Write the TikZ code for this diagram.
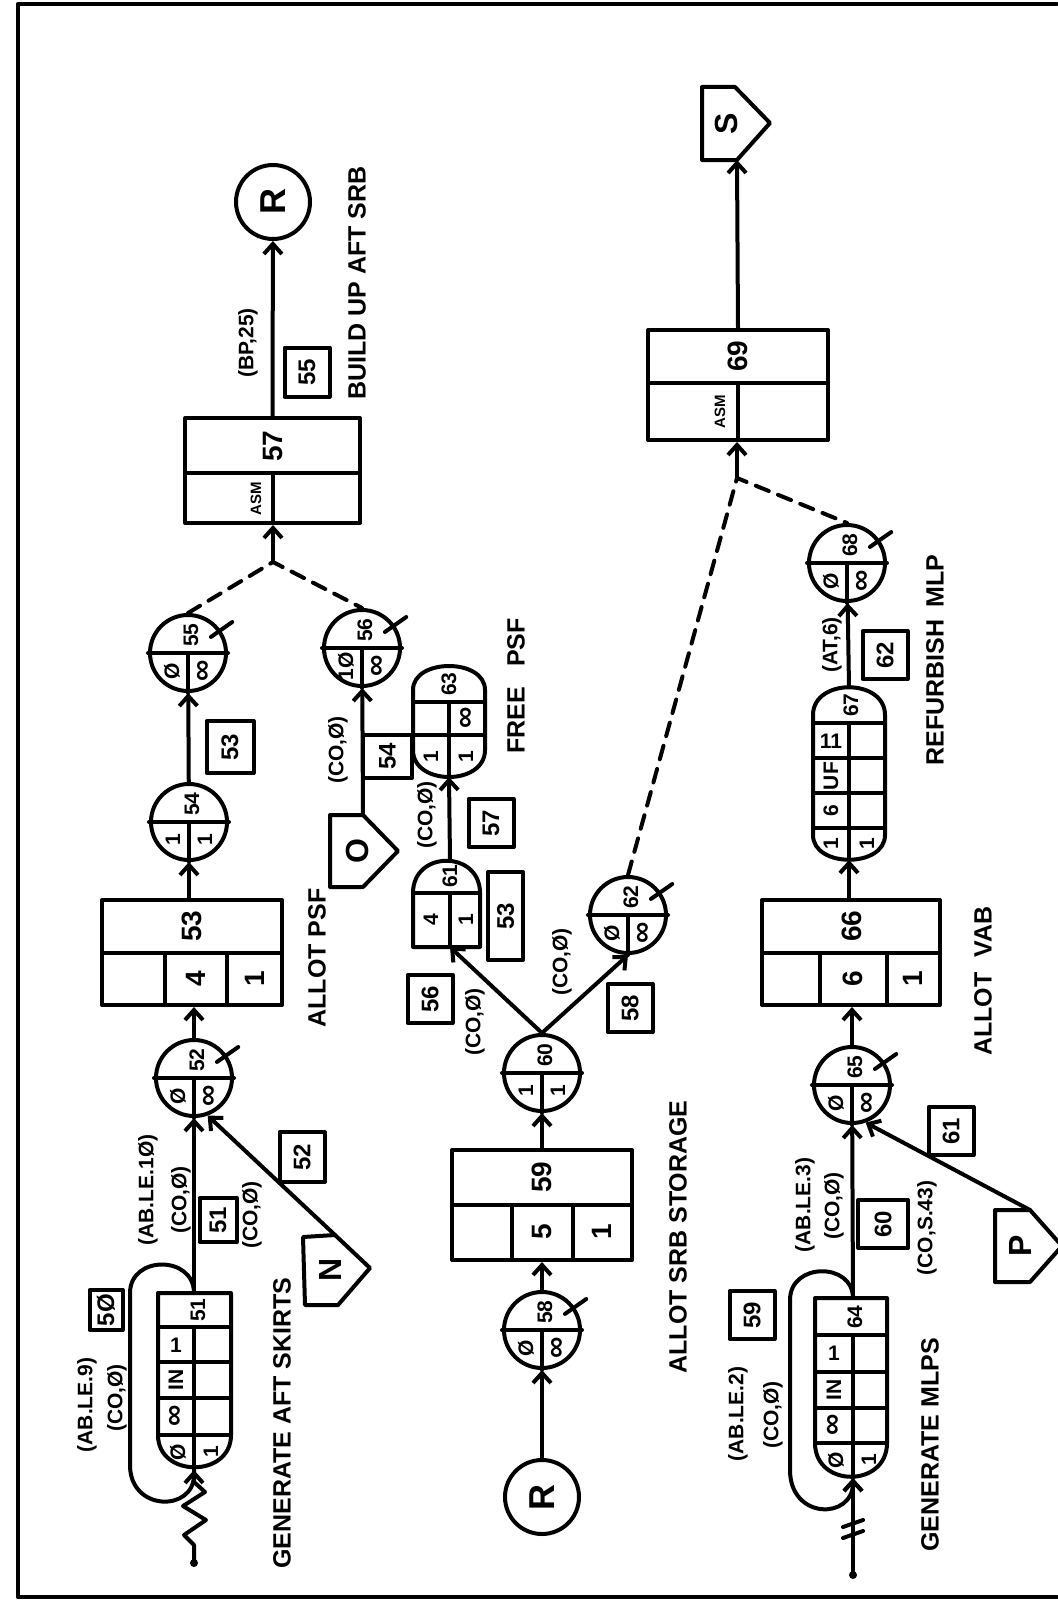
\documentclass[tikz,border=0pt]{standalone}
\usepackage{graphicx}
\usepackage{fontspec}
\setmainfont{Liberation Sans}
\usetikzlibrary{calc,arrows.meta}
\newcommand{\qcirc}[5]{%
  \node[qc] (#1) at (#2) {};
  \draw (#1.west) -- (#1.east) (#1.center) -- (#1.south);
  \node[cell] at ($(#1)+(3,-18)$) {#3};
  \node[cell] at ($(#1)+(-16,18)$) {#4};
  \node[cell] at ($(#1)+(16,18)$) {#5};}
\newcommand{\qtick}[1]{\draw ($(#1)!0.7!(#1.35)$) -- ($(#1)!1.35!(#1.35)$);}
\newcommand{\infsym}{{\fontsize{15}{15}\selectfont ∞}}
\begin{document}
\begin{tikzpicture}[x=0.5pt, y=-0.5pt, line width=2pt, line join=round, line cap=round,
  >={Straight Barb[length=5pt,width=9pt]},
  qc/.style={circle, draw, minimum size=38pt, inner sep=0pt},
  cell/.style={rotate=90, inner sep=0pt, font=\bfseries\fontsize{10.5}{11}\selectfont},
  up/.style={inner sep=0pt, font=\bfseries\fontsize{10.5}{11}\selectfont},
  num/.style={rotate=90, inner sep=0pt, font=\bfseries\fontsize{14}{14}\selectfont},
  small/.style={rotate=90, inner sep=0pt, font=\bfseries\fontsize{7.5}{8}\selectfont},
  lbl/.style={rotate=90, inner sep=0pt, font=\bfseries\fontsize{10.5}{11}\selectfont},
  title/.style={rotate=90, inner sep=0pt, font=\bfseries\fontsize{12.5}{13}\selectfont},
  letter/.style={rotate=90, inner sep=0pt, font=\bfseries\fontsize{16}{16}\selectfont},
  pbox/.style={draw, inner sep=0pt},
  actbox/.style={draw, rotate=90, minimum width=24pt, minimum height=22.5pt, inner sep=0pt, font=\bfseries\fontsize{12}{12}\selectfont},
  term/.style={circle, draw, minimum size=37pt, inner sep=0pt, font=\bfseries\fontsize{18}{18}\selectfont},
  flow/.style={->},
  link/.style={dash pattern=on 7pt off 5pt}]
\useasboundingbox (0,0) rectangle (1057,1600);
\draw[line width=2.2pt] (1057,4) -- (18,4) -- (18,1597) -- (1057,1597);

\coordinate (s51t) at (194,1293);
\coordinate (s51b) at (194,1470);
\draw (158,1293) -- (231,1293) -- (231,1435) .. controls (231,1478) and (158,1478) .. (158,1435) -- cycle;
\draw (158,1327) -- (231,1327) (158,1362) -- (231,1362) (158,1398) -- (231,1398) (158,1435) -- (231,1435) (194,1327) -- (s51b);
\node[cell] at (198,1310) {51};
\node[up] at (176,1345) {1};
\node[cell] at (176,1380) {IN};
\node[cell] at (176,1416) {\infsym};
\node[cell] at (178,1452) {Ø};
\node[cell] at (211,1452) {1};
\draw[flow] (s51t) .. controls (194,1255) and (130,1255) .. (130,1293) -- (130,1465) .. controls (130,1512) and (194,1512) .. (s51b);
\draw (194,1563) -- (194,1545) -- (184,1535) -- (206,1520) -- (183,1506) -- (205,1492) -- (194,1482) -- (s51b);
\fill (194,1563) circle (4);
\node[actbox, minimum width=20pt, minimum height=16.5pt] (a50) at (106,1310) {5Ø};
\node[lbl] at (87,1405) {(AB.LE.9)};
\node[lbl] at (117,1398) {(CO,Ø)};
\node[title] at (282,1423) {GENERATE AFT SKIRTS};

\qcirc{n52}{194,1078}{52}{Ø}{\infsym} \qtick{n52}
\draw[flow] (s51t) -- (n52);
\node[lbl] at (148,1190) {(AB.LE.1Ø)};
\node[lbl] at (181,1200) {(CO,Ø)};
\node[actbox, minimum width=22pt, minimum height=18.5pt] (a51) at (218,1220) {51};
\node[lbl] at (252,1215) {(CO,Ø)};
\draw (303,1237) -- (335,1235) -- (370,1268) -- (338,1305) -- (305,1305) -- cycle;
\coordinate (Nt) at (335,1235);
\node[letter] at (330,1270) {N};
\draw[flow] (Nt) -- (n52.-70);
\node[actbox, minimum width=25pt] (a52) at (302,1157) {52};

\node[pbox, minimum width=90pt, minimum height=52.5pt] (b53) at (192,952.5) {};
\draw (102,953) -- (282,953) (165,953) -- (165,1005) (227,953) -- (227,1005);
\node[num] at (192,926) {53};
\node[num] at (196,979) {4};
\node[num] at (255,979) {1};
\draw[flow] (n52) -- (n52 |- b53.south);
\node[title] at (317,958) {ALLOT PSF};

\qcirc{n54}{189,822}{54}{1}{1}
\draw[flow] (b53.north -| n54) -- (n54);
\qcirc{n55}{188,653}{55}{Ø}{\infsym} \qtick{n55}
\draw[flow] (n54) -- (n55);
\node[actbox, minimum width=26pt, minimum height=23.5pt] (a53) at (230,747) {53};

\qcirc{n56}{362,648}{56}{1Ø}{\infsym} \qtick{n56}
\draw (330,815) -- (363,815) -- (398,851) -- (363,887) -- (330,887) -- cycle;
\coordinate (Ot) at (363,815);
\node[letter] at (357,851) {O};
\draw[flow] (Ot) -- (n56);
\node[lbl] at (338,750) {(CO,Ø)};
\node[actbox, minimum width=21.5pt, minimum height=24.5pt] (a54) at (387.5,756.5) {54};

\node[pbox, minimum width=87.5pt, minimum height=52.5pt] (b57) at (272.5,470.5) {};
\draw (185,473) -- (360,473) (273,473) -- (273,523);
\node[num] at (273,446) {57};
\node[small] at (256,499) {ASM};
\coordinate (mA) at (273,562);
\draw[link] (n55.north) -- (mA) -- (n56.north);
\draw[flow] (mA) -- (mA |- b57.south);
\node[term] (rA) at (273,202) {\rotatebox{90}{R}};
\draw[flow] (b57.north) -- (rA);
\node[lbl] at (248,343) {(BP,25)};
\node[actbox, minimum width=24.5pt] (a55) at (307,372) {55};
\node[title] at (357,283) {BUILD UP AFT SRB};

\node[term] (rB) at (542,1497) {\rotatebox{90}{R}};
\qcirc{n58}{542,1330}{58}{Ø}{\infsym} \qtick{n58}
\draw[flow] (rB) -- (n58);
\node[pbox, minimum width=90pt, minimum height=55pt] (b59) at (542,1205) {};
\draw (452,1205) -- (632,1205) (512,1205) -- (512,1260) (573,1205) -- (573,1260);
\node[num] at (542,1177) {59};
\node[num] at (542,1232) {5};
\node[num] at (602,1232) {1};
\draw[flow] (n58) -- (n58 |- b59.south);
\node[title] at (678,1237) {ALLOT SRB STORAGE};
\qcirc{n60}{542,1073}{60}{1}{1}
\draw[flow] (b59.north) -- (n60);

\draw (413,947) -- (413,893) .. controls (413,850) and (480,850) .. (480,893) -- (480,947) -- cycle;
\draw (413,893) -- (480,893) (450,893) -- (450,947);
\coordinate (q61t) at (450,860);
\coordinate (q61b) at (450,947);
\node[cell] at (450,876) {61};
\node[cell] at (431,920) {4};
\node[cell] at (466,920) {1};
\node[actbox, minimum width=44pt, minimum height=17.5pt] (a53b) at (505.5,916) {53};
\qcirc{n62}{628,915}{62}{Ø}{\infsym} \qtick{n62}
\draw[flow] (n60.north) -- (q61b);
\draw[flow] (n60.north) -- (n62.south);
\node[lbl] at (475,1022) {(CO,Ø)};
\node[actbox] (a56) at (430,999) {56};
\node[lbl] at (562,962) {(CO,Ø)};
\node[actbox] (a58) at (630,1008) {58};

\draw (413,690) .. controls (413,658) and (485,658) .. (485,690) -- (485,750) .. controls (485,786) and (413,786) .. (413,750) -- cycle;
\draw (413,702) -- (485,702) (413,735) -- (485,735) (449,702) -- (449,777);
\coordinate (f63b) at (449,777);
\node[cell] at (449,684) {63};
\node[cell] at (467,718) {\infsym};
\node[cell] at (431,757) {1};
\node[cell] at (466,757) {1};
\draw[flow] (q61t) -- (f63b);
\node[lbl] at (427,815) {(CO,Ø)};
\node[actbox] (a57) at (491,823) {57};
\node[title] at (516,686) {FREE\hspace{0.8em}PSF};

\node[pbox, minimum width=90pt, minimum height=55pt] (b69) at (738,385) {};
\draw (648,383) -- (828,383) (738,383) -- (738,440);
\node[num] at (738,356) {69};
\node[small] at (720,412) {ASM};
\draw (702,87) -- (735,87) -- (770,123) -- (737,160) -- (702,160) -- cycle;
\coordinate (Sb) at (737,160);
\node[letter] at (726,124) {S};
\draw[flow] (b69.north) -- (Sb);

\coordinate (s64t) at (853,1298);
\coordinate (s64b) at (853,1478);
\draw (815,1298) -- (887,1298) -- (887,1443) .. controls (887,1488) and (815,1488) .. (815,1443) -- cycle;
\draw (815,1335) -- (887,1335) (815,1372) -- (887,1372) (815,1408) -- (887,1408) (815,1443) -- (887,1443) (853,1335) -- (s64b);
\node[cell] at (855,1317) {64};
\node[up] at (834,1353) {1};
\node[cell] at (834,1390) {IN};
\node[cell] at (834,1425) {\infsym};
\node[cell] at (836,1460) {Ø};
\node[cell] at (869,1460) {1};
\draw[flow] (s64t) .. controls (853,1262) and (790,1262) .. (790,1300) -- (790,1470) .. controls (790,1520) and (853,1520) .. (s64b);
\draw[flow] (853,1575) -- (s64b);
\fill (853,1575) circle (4);
\draw (843,1527) -- (863,1520) (843,1538) -- (863,1531);
\node[lbl] at (738,1414) {(AB.LE.2)};
\node[lbl] at (773,1415) {(CO,Ø)};
\node[actbox] (a59) at (752,1315) {59};
\node[title] at (930,1445) {GENERATE MLPS};

\qcirc{n65}{852,1085}{65}{Ø}{\infsym} \qtick{n65}
\draw[flow] (s64t) -- (n65);
\node[lbl] at (805,1205) {(AB.LE.3)};
\node[lbl] at (834,1206) {(CO,Ø)};
\node[actbox, minimum width=24pt, minimum height=25pt] (a60) at (883,1224) {60};
\node[lbl] at (927,1228) {(CO,S.43)};
\draw (995,1210) -- (1030,1210) -- (1062,1246) -- (1030,1282) -- (995,1282) -- cycle;
\coordinate (Pt) at (1030,1210);
\node[letter] at (1020,1246) {P};
\draw[flow] (Pt) -- (n65.-70);
\node[actbox] (a61) at (951,1131) {61};

\node[pbox, minimum width=89pt, minimum height=52.5pt] (b66) at (851,952.5) {};
\draw (762,953) -- (940,953) (820,953) -- (820,1005) (887,953) -- (887,1005);
\node[num] at (852,926) {66};
\node[num] at (853,979) {6};
\node[num] at (913,979) {1};
\draw[flow] (n65) -- (n65 |- b66.south);
\node[title] at (983,981) {ALLOT\hspace{0.6em}VAB};

\draw (813,715) .. controls (813,678) and (885,678) .. (885,715) -- (885,835) .. controls (885,868) and (813,868) .. (813,835) -- cycle;
\draw (813,723) -- (885,723) (813,758) -- (885,758) (813,793) -- (885,793) (813,828) -- (885,828) (849,723) -- (849,860);
\coordinate (o67t) at (849,687);
\coordinate (o67b) at (849,860);
\node[cell] at (851,705) {67};
\node[up] at (831,741) {11};
\node[cell] at (831,776) {UF};
\node[cell] at (831,811) {6};
\node[cell] at (831,844) {1};
\node[cell] at (867,844) {1};
\draw[flow] (b66.north -| o67b) -- (o67b);
\qcirc{n68}{847,563}{68}{Ø}{\infsym} \qtick{n68}
\draw[flow] (o67t) -- (n68);
\node[lbl] at (832,645) {(AT,6)};
\node[actbox] (a62) at (885,655) {62};
\node[title] at (935,660) {REFURBISH\hspace{0.5em}MLP};

\coordinate (mB) at (737,478);
\draw[link] (n62.north) -- (mB) -- (n68.north);
\draw[flow] (mB) -- (mB |- b69.south);
\end{tikzpicture}
\end{document}
